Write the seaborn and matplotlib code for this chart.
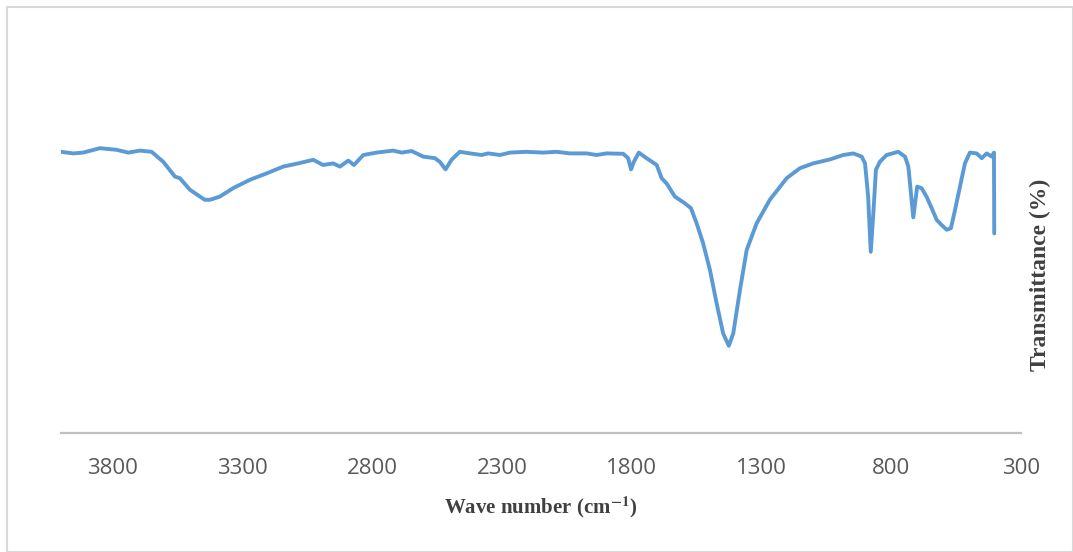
import numpy as np
import pandas as pd
import seaborn as sns
import matplotlib
matplotlib.use("Agg")
import matplotlib.pyplot as plt
from matplotlib.patches import Rectangle

# FTIR spectrum
wavenumber = [4000, 3953, 3915, 3850, 3786, 3741, 3696, 3651, 3606, 3561,
              3542, 3503, 3446, 3426, 3388, 3337, 3272, 3208, 3144, 3086,
              3028, 2990, 2951, 2925, 2893, 2871, 2835, 2784, 2720, 2687,
              2649, 2604, 2559, 2540, 2518, 2495, 2463, 2424, 2379, 2354,
              2308, 2270, 2206, 2142, 2090, 2039, 1974, 1936, 1897, 1833,
              1814, 1803, 1792, 1773, 1743, 1704, 1685, 1666, 1634, 1595,
              1572, 1550, 1525, 1499, 1473, 1448, 1426, 1409, 1383, 1357,
              1319, 1268, 1203, 1152, 1101, 1036, 985, 946, 914, 901,
              889, 879, 869, 859, 844, 818, 773, 747, 734, 724,
              715, 700, 683, 664, 644, 625, 606, 586, 570, 554,
              535, 516, 497, 471, 451, 432, 413, 404, 403]
transmittance = [70.3, 69.9, 70.1, 71.2, 70.8, 70.1, 70.6, 70.3, 67.8, 64.1,
                 63.7, 60.8, 58.3, 58.3, 59.1, 61.2, 63.3, 64.9, 66.6, 67.4,
                 68.3, 67.0, 67.4, 66.6, 68.1, 67.0, 69.5, 70.1, 70.6, 70.1,
                 70.5, 69.1, 68.7, 67.8, 65.9, 68.3, 70.3, 69.9, 69.5, 69.9,
                 69.5, 70.1, 70.3, 70.1, 70.3, 69.9, 69.9, 69.5, 69.9, 69.8,
                 68.7, 65.9, 67.8, 70.1, 68.7, 67.0, 63.7, 62.4, 59.1, 57.4,
                 56.2, 52.4, 47.4, 40.8, 32.4, 24.9, 21.8, 24.9, 35.8, 45.8,
                 52.4, 58.3, 63.7, 66.2, 67.4, 68.4, 69.5, 69.9, 69.1, 67.4,
                 59.1, 45.3, 54.9, 65.8, 67.8, 69.5, 70.3, 69.1, 66.6, 59.9,
                 53.9, 61.6, 61.2, 59.1, 56.2, 53.3, 52.0, 50.8, 51.2, 55.8,
                 61.6, 67.4, 70.1, 69.9, 68.7, 69.9, 69.1, 70.1, 49.9]
tick_values = [3800, 3300, 2800, 2300, 1800, 1300, 800, 300]

df = pd.DataFrame({"wavenumber": wavenumber, "transmittance": transmittance})

sns.set_style("white")
plt.rcParams["mathtext.fontset"] = "stix"

fig = plt.figure(figsize=(10.73, 5.52), dpi=100)
ax = fig.add_axes([0.0569, 0.2156, 0.8946, 0.7246])

sns.lineplot(data=df, x="wavenumber", y="transmittance", sort=False,
             color="#5B9BD5", linewidth=2.8, ax=ax)

ax.set_xlim(4000, 300)
ax.set_ylim(0, 100)
ax.set_xticks(tick_values)
ax.set_xticklabels([str(v) for v in tick_values],
                   family=["Liberation Sans Narrow", "Open Sans", "DejaVu Sans"],
                   fontsize=16, color="#595959")
ax.tick_params(axis="x", length=0, pad=18)
ax.set_yticks([])

for side in ["top", "left", "right"]:
    ax.spines[side].set_visible(False)
ax.spines["bottom"].set_color("#BFBFBF")
ax.spines["bottom"].set_linewidth(1.6)

ax.set_xlabel(r"Wave number (cm$^{\mathbf{-1}}$)", family="Liberation Serif",
              fontweight="bold", fontsize=15, color="#404040", labelpad=11)
ax.set_ylabel("")
fig.text(1040 / 1073, 1 - 275 / 552, "Transmittance (%)", rotation=90,
         ha="center", va="center", family="Liberation Serif",
         fontweight="bold", fontsize=17, color="#404040")

fig.patches.append(Rectangle((7 / 1073, 0), 1 - 7 / 1073, 1 - 7 / 552,
                             transform=fig.transFigure, fill=False,
                             edgecolor="#D9D9D9", linewidth=1.5))

fig.savefig("out.png", dpi=100)
